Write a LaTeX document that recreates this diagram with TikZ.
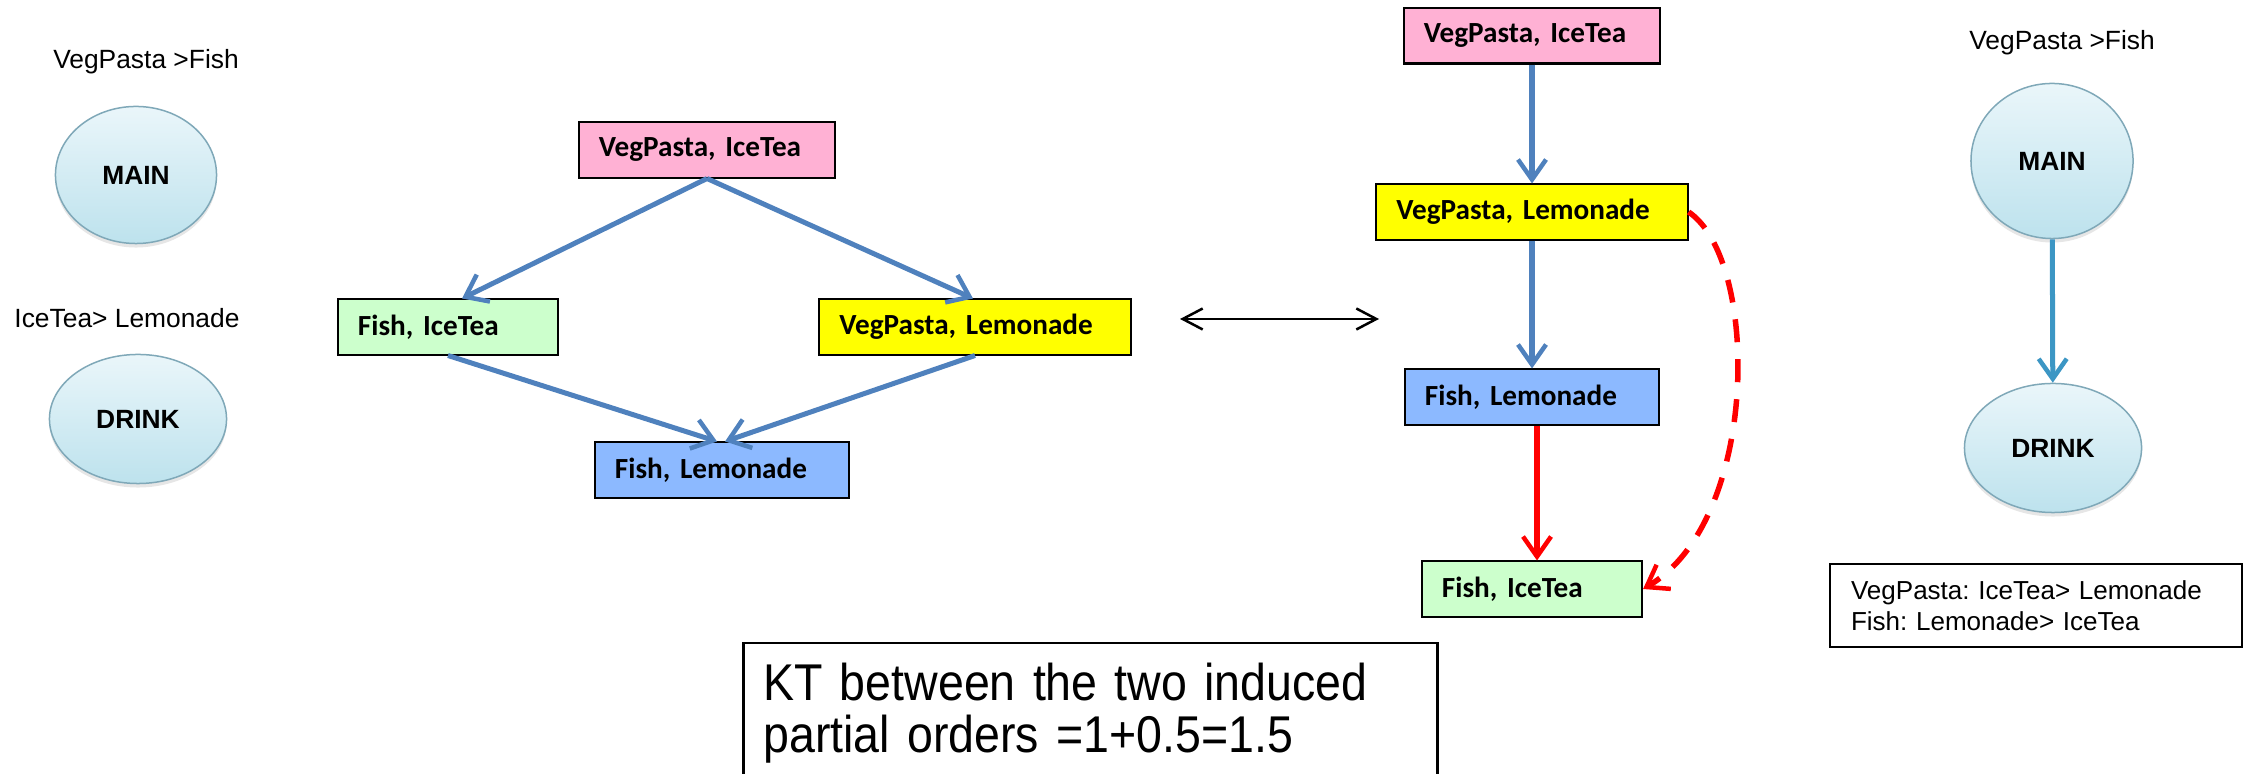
\documentclass[tikz,border=0pt]{standalone}
\usepackage{fontspec}
\usepackage{tikz}
\usetikzlibrary{arrows.meta, positioning, shapes.geometric, shadows}
\setmainfont{Liberation Sans}
\newfontfamily\arialfont{Liberation Sans}
\newfontfamily\ktfont[FakeStretch=0.9]{Liberation Sans}
\newfontfamily\calfont{Carlito}
\definecolor{pinkBox}{HTML}{FFB1D4}
\definecolor{greenBox}{HTML}{CCFFCC}
\definecolor{yellowBox}{HTML}{FFFF00}
\definecolor{blueBox}{HTML}{8CB9FF}
\definecolor{arrowBlue}{HTML}{4F81BD}
\definecolor{arrowCyan}{HTML}{3C96C4}
\definecolor{arrowRed}{HTML}{FF0000}
\definecolor{ellTop}{HTML}{EAF6FA}
\definecolor{ellBot}{HTML}{BDE2ED}
\definecolor{ellEdge}{HTML}{7FA8B8}
\frenchspacing

\begin{document}
\begin{tikzpicture}[
    x=0.01cm, y=-0.01cm,
    attr/.style={ellipse, draw=ellEdge, line width=0.015cm, top color=ellTop, bottom color=ellBot, inner sep=0pt,
      font=\arialfont\bfseries\fontsize{7.5}{8}\selectfont,
      drop shadow={shadow xshift=0cm, shadow yshift=-0.04cm, opacity=0.2, fill=gray}},
    state/.style={draw=black, line width=0.02cm, inner xsep=0.2cm, inner ysep=0pt, minimum height=0.55cm, align=left,
      font=\calfont\bfseries\fontsize{8.3}{9.5}\selectfont},
    pref/.style={font=\arialfont\fontsize{7.5}{8.8}\selectfont, inner sep=0pt},
    order/.style={-{Straight Barb[length=0.2cm, width=0.3cm, line width=0.045cm]}, draw=arrowBlue, line width=0.05cm},
    chain/.style={-{Straight Barb[length=0.2cm, width=0.28cm, line width=0.045cm]}, line width=0.055cm},
    swap/.style={{Straight Barb[length=0.2cm, width=0.21cm]}-{Straight Barb[length=0.2cm, width=0.21cm]}, draw=black, line width=0.025cm}
  ]
  \clip (0,0) rectangle (2249,774);

  % attribute order, left
  \node[pref] (ordL) at (146,62) {VegPasta >Fish};
  \node[attr, minimum width=1.61cm, minimum height=1.37cm] (mainL) at (136,175) {MAIN};
  \node[pref] (condL) at (127,318) {IceTea> Lemonade};
  \node[attr, minimum width=1.77cm, minimum height=1.29cm] (drinkL) at (138,419) {DRINK};

  % induced order, diamond
  \node[state, fill=pinkBox, text width=2.16cm] (vi) at (707,150) {VegPasta, IceTea};
  \node[state, fill=greenBox, text width=1.80cm] (fi) at (448,327) {Fish, IceTea};
  \node[state, fill=yellowBox, text width=2.71cm] (vl) at (975,327) {VegPasta, Lemonade};
  \node[state, fill=blueBox, text width=2.14cm] (fl) at (722,470) {Fish, Lemonade};
  \draw[order] (vi.south) -- ([xshift=0.14cm]fi.north);
  \draw[order] (vi.south) -- ([xshift=-0.02cm]vl.north);
  \draw[order] (fi.south) -- ([xshift=-0.05cm]fl.north);
  \draw[order] (vl.south) -- ([xshift=0.03cm]fl.north);

  \coordinate (swapL) at (1180,319);
  \coordinate (swapR) at (1379,319);
  \draw[swap] (swapL) -- (swapR);

  % induced order, chain
  \node[state, fill=pinkBox, text width=2.16cm] (rvi) at (1532,36) {VegPasta, IceTea};
  \node[state, fill=yellowBox, text width=2.71cm] (rvl) at (1532,212) {VegPasta, Lemonade};
  \node[state, fill=blueBox, text width=2.14cm] (rfl) at (1532,397) {Fish, Lemonade};
  \node[state, fill=greenBox, text width=1.80cm] (rfi) at (1532,589) {Fish, IceTea};
  \draw[chain, draw=arrowBlue] (rvi) -- (rvl);
  \draw[chain, draw=arrowBlue] (rvl) -- (rfl);
  \draw[chain, draw=arrowRed] ([xshift=0.05cm]rfl.south) -- ([xshift=0.05cm]rfi.north);
  \draw[chain, draw=arrowRed, dash pattern=on 0.23cm off 0.17cm]
    (rvl.east) .. controls (1760,260) and (1760,520) .. (rfi.east);

  % attribute order, right
  \node[pref] (ordR) at (2062,43) {VegPasta >Fish};
  \node[attr, minimum width=1.62cm, minimum height=1.55cm] (mainR) at (2052,161) {MAIN};
  \node[attr, minimum width=1.77cm, minimum height=1.29cm] (drinkR) at (2053,448) {DRINK};
  \draw[chain, draw=arrowCyan, line width=0.05cm] (mainR) -- (drinkR);
  \node[draw=black, line width=0.02cm, anchor=north west, minimum width=4.12cm, minimum height=0.83cm,
    text width=3.70cm, inner xsep=0.21cm, inner ysep=0pt, align=left,
    font=\arialfont\fontsize{7.4}{8.8}\selectfont] (prefs) at (1829,563)
    {VegPasta: IceTea> Lemonade\\Fish: Lemonade> IceTea};

  % distance note
  \node[draw=black, line width=0.025cm, anchor=north west, text width=6.54cm, inner xsep=0.2cm, inner ysep=0.2cm,
    text depth=1.5cm, align=left, font=\ktfont\fontsize{14.7}{14.8}\selectfont] (kt) at (742,642)
    {KT between the two induced\\partial orders =1+0.5=1.5};
\end{tikzpicture}
\end{document}
